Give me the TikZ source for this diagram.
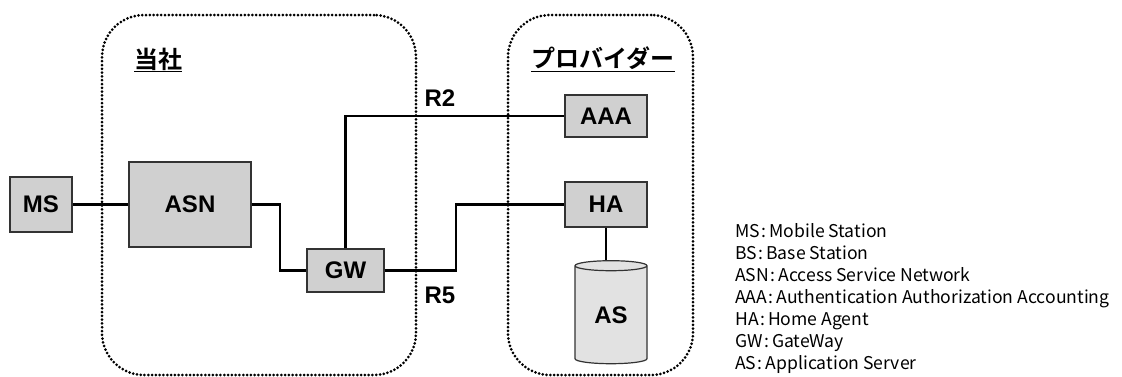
\documentclass[tikz,border=0pt]{standalone}
\usepackage{fontspec}
\setmainfont{Liberation Sans}
\newfontfamily\jpfont{Noto Sans CJK JP}
\newfontfamily\jpbold{Noto Sans CJK JP Bold}
\usetikzlibrary{shapes.geometric}
\definecolor{boxgray}{RGB}{208,208,208}
\definecolor{cylgray}{RGB}{226,226,226}
\begin{document}
\begin{tikzpicture}[x=1pt,y=-1pt,
  unit/.style={draw=black!80,line width=1.2pt,fill=boxgray,inner sep=0,font=\fontsize{24}{24}\selectfont\bfseries},
  zone/.style={draw,line width=3pt,line cap=round,dash pattern=on 0pt off 3.8pt,rounded corners=42pt,inner sep=0},
  link/.style={line width=2.2pt},
  tag/.style={font=\fontsize{24}{24}\selectfont\bfseries},
  grp/.style={font=\fontsize{24}{24}\jpbold}]
  \useasboundingbox (0,0) rectangle (1122,376);
  % the two domains
  \node [zone,minimum width=314pt,minimum height=360pt] (ours) at (259,195) {};
  \node [zone,minimum width=185pt,minimum height=360pt] (prov) at (600.5,195) {};
  \node [grp] (oursname) at (158,60) {\underline{当社}};
  \node [grp] (provname) at (603,59) {\underline{プロバイダー}};
  % boxes
  \node [unit,minimum width=62pt,minimum height=55pt] (MS) at (41,204.5) {MS};
  \node [unit,minimum width=122pt,minimum height=85pt] (ASN) at (190,204.5) {ASN};
  \node [unit,minimum width=77pt,minimum height=43pt] (GW) at (345.5,270.5) {GW};
  \node [unit,minimum width=82pt,minimum height=42pt] (AAA) at (606,116) {AAA};
  \node [unit,minimum width=82pt,minimum height=45pt] (HA) at (606,204.5) {HA};
  \node [unit,fill=cylgray,shape=cylinder,shape border rotate=90,aspect=0.3,minimum width=72pt,minimum height=103pt] (AS) at (611,315) {AS};
  % links
  \draw [link] (MS.east) -- (ASN.west);
  \draw [link] (ASN.east) -- ++(28,0) |- (GW.west);
  \draw [link] (GW.north) |- (AAA.west);
  \draw [link] (GW.east) -- ++(71,0) |- (HA.west);
  \draw [link] (HA.south) -- (HA.south |- AS.north);
  \node [tag] (R2) at (440,98) {R2};
  \node [tag] (R5) at (440,295) {R5};
  % legend
  \foreach \abbr/\full [count=\i from 0] in {MS/Mobile Station,BS/Base Station,ASN/Access Service Network,AAA/Authentication Authorization Accounting,HA/Home Agent,GW/GateWay,AS/Application Server}{
    \node [anchor=base west,inner sep=0,font=\fontsize{17.6}{17.6}\jpfont] (key\i) at (735,{237+22*\i}) {\abbr\hspace{1.5pt}:\hspace{3pt}\full};
  }
\end{tikzpicture}
\end{document}
